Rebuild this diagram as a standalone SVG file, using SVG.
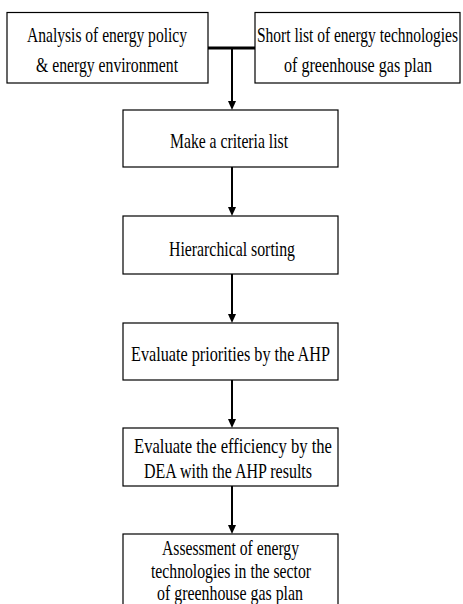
<svg xmlns="http://www.w3.org/2000/svg" width="463" height="604" viewBox="0 0 463 604">
<defs>
<style>
.box{fill:#fff;stroke:#000;stroke-width:1.2}
.t{font-family:"Liberation Serif","Times New Roman",serif;font-size:21.5px;fill:#000}
.c{stroke:#000;stroke-width:2;fill:none}
.ah{fill:#000}
</style>
</defs>
<rect width="463" height="604" fill="#fff"/>
<g id="connectors">
<line x1="208" y1="48" x2="255" y2="48" stroke="#000" stroke-width="3"/>
<line class="c" x1="232" y1="48" x2="232" y2="104"/>
<path class="ah" d="M228,101 L236,101 L232,110 Z"/>
<line class="c" x1="232" y1="167" x2="232" y2="210"/>
<path class="ah" d="M228,207 L236,207 L232,216 Z"/>
<line class="c" x1="232" y1="274" x2="232" y2="317"/>
<path class="ah" d="M228,314 L236,314 L232,323 Z"/>
<line class="c" x1="232" y1="380" x2="232" y2="422"/>
<path class="ah" d="M228,419 L236,419 L232,428 Z"/>
<line class="c" x1="232" y1="486" x2="232" y2="528"/>
<path class="ah" d="M228,525 L236,525 L232,534 Z"/>
</g>
<g id="n1">
<rect class="box" x="7" y="12.5" width="201" height="70.5"/>
<text class="t" transform="scale(0.73,1)" x="36.99" y="42" textLength="219.18" lengthAdjust="spacingAndGlyphs">Analysis of energy policy</text>
<text class="t" transform="scale(0.73,1)" x="49.32" y="72" textLength="194.52" lengthAdjust="spacingAndGlyphs">&amp; energy environment</text>
</g>
<g id="n2">
<rect class="box" x="255" y="12.5" width="205" height="70.5"/>
<text class="t" transform="scale(0.73,1)" x="352.05" y="42" textLength="275.34" lengthAdjust="spacingAndGlyphs">Short list of energy technologies</text>
<text class="t" transform="scale(0.73,1)" x="389.04" y="72" textLength="202.74" lengthAdjust="spacingAndGlyphs">of greenhouse gas plan</text>
</g>
<g id="n3">
<rect class="box" x="123" y="110" width="215" height="57"/>
<text class="t" transform="scale(0.73,1)" x="232.88" y="148" textLength="161.64" lengthAdjust="spacingAndGlyphs">Make a criteria list</text>
</g>
<g id="n4">
<rect class="box" x="123" y="216" width="215" height="58"/>
<text class="t" transform="scale(0.73,1)" x="231.51" y="256" textLength="172.6" lengthAdjust="spacingAndGlyphs">Hierarchical sorting</text>
</g>
<g id="n5">
<rect class="box" x="123" y="323" width="215" height="57"/>
<text class="t" transform="scale(0.73,1)" x="179.45" y="361" textLength="272.6" lengthAdjust="spacingAndGlyphs">Evaluate priorities by the AHP</text>
</g>
<g id="n6">
<rect class="box" x="123" y="428" width="215" height="58"/>
<text class="t" transform="scale(0.73,1)" x="183.56" y="453" textLength="271.23" lengthAdjust="spacingAndGlyphs">Evaluate the efficiency by the</text>
<text class="t" transform="scale(0.73,1)" x="197.26" y="478" textLength="230.14" lengthAdjust="spacingAndGlyphs">DEA with the AHP results</text>
</g>
<g id="n7">
<rect class="box" x="123" y="534" width="215" height="80"/>
<text class="t" transform="scale(0.73,1)" x="221.92" y="555" textLength="187.67" lengthAdjust="spacingAndGlyphs">Assessment of energy</text>
<text class="t" transform="scale(0.73,1)" x="206.85" y="578" textLength="219.18" lengthAdjust="spacingAndGlyphs">technologies in the sector</text>
<text class="t" transform="scale(0.73,1)" x="215.07" y="600" textLength="200" lengthAdjust="spacingAndGlyphs">of greenhouse gas plan</text>
</g>
</svg>
